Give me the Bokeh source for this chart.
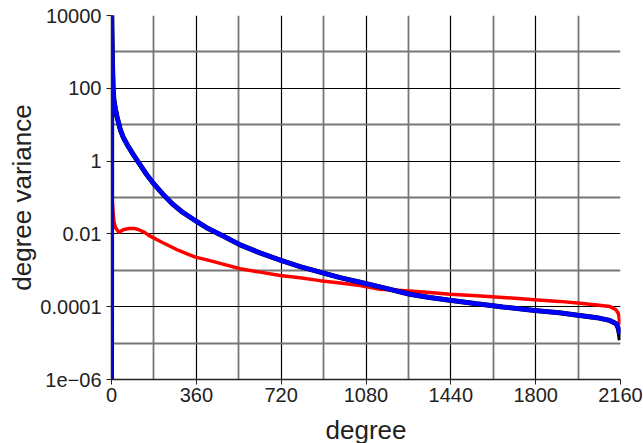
from bokeh.plotting import figure
from bokeh.models import Range1d, FixedTicker
from bokeh.embed import file_html
from bokeh.resources import INLINE

# degree positions and values
blue_deg = [0, 1, 2, 4, 7, 10, 16, 24, 38, 50, 70, 90, 116, 150, 179, 220, 257, 300,
            356, 410, 469, 500, 546, 630, 716, 800, 885, 970, 1055, 1139, 1266, 1350, 1436,
            1550, 1661, 1796, 1900, 1979, 2060, 2114, 2142, 2150, 2156, 2159]
blue_val = [1e-7, 1.26e4, 3.2e3, 500, 100, 50, 28, 16, 7.1, 4.5, 2.6, 1.6, 0.89, 0.42,
            0.24, 0.12, 0.068, 0.040, 0.023, 0.014, 0.0091, 0.0071, 0.0050, 0.0030, 0.0019,
            0.00126, 8.9e-4, 6.3e-4, 4.7e-4, 3.5e-4, 2.2e-4, 1.8e-4, 1.5e-4, 1.2e-4,
            9.8e-5, 7.9e-5, 6.8e-5, 5.8e-5, 5.0e-5, 4.2e-5, 3.4e-5, 2.8e-5, 2.0e-5, 1.8e-5]

black_deg = [0, 1, 2, 4, 7, 10, 16, 24, 38, 50, 70, 90, 116, 150, 179, 220, 257, 300,
             356, 410, 469, 500, 546, 630, 716, 800, 885, 970, 1055, 1139, 1266, 1350, 1436,
             1550, 1661, 1796, 1900, 1979, 2060, 2114, 2142, 2150, 2156, 2159]
black_val = [1e-7, 1.26e4, 3.2e3, 500, 100, 50, 28, 16, 7.1, 4.5, 2.6, 1.6, 0.89, 0.42,
             0.24, 0.12, 0.068, 0.040, 0.023, 0.014, 0.0091, 0.0071, 0.0050, 0.0030, 0.0019,
             0.00126, 8.9e-4, 6.3e-4, 4.7e-4, 3.5e-4, 2.2e-4, 1.8e-4, 1.5e-4, 1.2e-4,
             9.8e-5, 7.9e-5, 6.8e-5, 5.8e-5, 5.0e-5, 4.2e-5, 3.4e-5, 2.6e-5, 1.7e-5, 1.2e-5]

red_deg = [0, 1, 2, 5, 10, 17, 31, 50, 73, 100, 116, 140, 158, 214, 285, 356, 410, 469,
           546, 630, 716, 800, 885, 970, 1055, 1139, 1266, 1350, 1436, 1550, 1661, 1796,
           1900, 1979, 2060, 2114, 2142, 2152, 2156, 2159]
red_val = [1e-7, 0.25, 0.126, 0.054, 0.022, 0.015, 0.011, 0.013, 0.014, 0.014, 0.013,
           0.011, 0.0091, 0.0059, 0.0035, 0.0023, 0.0019, 0.0015, 0.0011, 8.9e-4, 7.2e-4,
           6.2e-4, 5.2e-4, 4.5e-4, 3.8e-4, 3.0e-4, 2.7e-4, 2.45e-4, 2.2e-4, 2.0e-4, 1.8e-4,
           1.55e-4, 1.4e-4, 1.26e-4, 1.12e-4, 1.02e-4, 8.1e-5, 6.3e-5, 3.8e-5, 3.2e-5]

x_major = [0, 360, 720, 1080, 1440, 1800, 2160]
x_minor = [180, 540, 900, 1260, 1620, 1980]
y_major = [1e-6, 1e-4, 1e-2, 1, 100, 1e4]
y_minor = [1e-5, 1e-3, 0.1, 10, 1000]
y_labels = ["1e\u221206", "0.0001", "0.01", "1", "100", "10000"]

FONT = "Liberation Sans"
TXT = "#222222"

p = figure(frame_width=509, frame_height=364, y_axis_type="log",
           x_range=Range1d(0, 2160), y_range=Range1d(1e-6, 1e4),
           output_backend="svg", toolbar_location=None,
           min_border_left=111, min_border_top=15, min_border_right=23, min_border_bottom=64)
p.outline_line_color = None
p.background_fill_color = "white"

p.xaxis.ticker = FixedTicker(ticks=x_major, minor_ticks=x_minor)
p.yaxis.ticker = FixedTicker(ticks=y_major, minor_ticks=y_minor)
p.yaxis.major_label_overrides = {v: s for v, s in zip(y_major, y_labels)}
p.xaxis.major_label_overrides = {v: str(v) for v in x_major}

for ax in (p.xaxis, p.yaxis):
    ax.major_label_text_font = FONT
    ax.major_label_text_font_size = "20px"
    ax.major_label_text_color = TXT
    ax.axis_label_text_font = FONT
    ax.axis_label_text_font_size = "26px"
    ax.axis_label_text_font_style = "normal"
    ax.axis_label_text_color = TXT
    ax.minor_tick_line_color = None
    ax.major_tick_in = 0
    ax.major_tick_out = 5
    ax.major_tick_line_color = "#222222"
    ax.axis_line_color = "#222222"
    ax.axis_line_width = 1.5

p.xaxis.major_label_standoff = 3
p.yaxis.major_label_standoff = 5
p.xaxis.axis_label = "degree"
p.yaxis.axis_label = "degree variance"
p.xaxis.axis_label_standoff = 10
p.yaxis.axis_label_standoff = 0

for g in (p.xgrid, p.ygrid):
    g.grid_line_color = "black"
    g.grid_line_width = 1.2
    g.minor_grid_line_color = "#777777"
    g.minor_grid_line_width = 1.8

p.line(red_deg, red_val, line_color="red", line_width=3.5)
p.line(black_deg, black_val, line_color="black", line_width=5)
p.line(blue_deg, blue_val, line_color="blue", line_width=4.5)

open("out.html", "w").write(file_html(p, INLINE))
